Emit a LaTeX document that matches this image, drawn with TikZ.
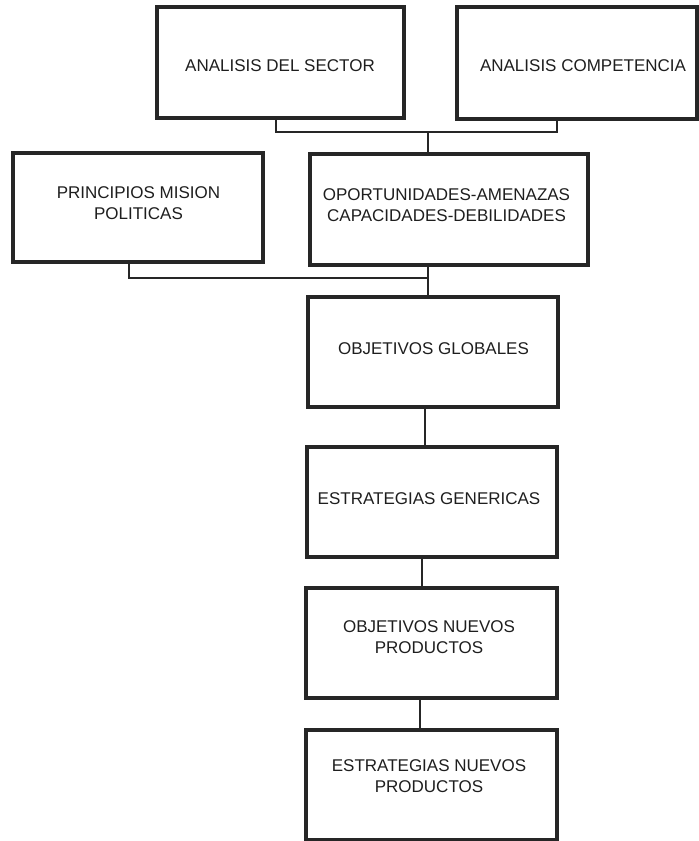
\documentclass[tikz,border=0pt]{standalone}
\usepackage{fontspec}
\setmainfont{Liberation Sans}
\usetikzlibrary{calc}
\definecolor{ink}{HTML}{262626}
\definecolor{txtink}{HTML}{1E1E1E}
\tikzset{
  box/.style={draw=ink, line width=3.2pt, rectangle, inner sep=0pt},
  boxtext/.style={text=txtink, align=center, inner sep=0pt,
    font=\fontsize{17}{21}\selectfont},
  conn/.style={draw=ink, line width=1.9pt},
  thinconn/.style={draw=ink, line width=1.3pt},
}
\begin{document}
\begin{tikzpicture}[x=1pt, y=-1pt]
\useasboundingbox (0,0) rectangle (699,841);

% boxes
\node[box, minimum width=247pt, minimum height=111pt] (b1) at (280.5,62.5) {};
\node[box, minimum width=240pt, minimum height=112pt] (b2) at (577,63) {};
\node[box, minimum width=250pt, minimum height=109pt] (b3) at (138,207.5) {};
\node[box, minimum width=278pt, minimum height=111pt] (b4) at (449,209.5) {};
\node[box, minimum width=250pt, minimum height=110pt] (b5) at (433,352) {};
\node[box, minimum width=250pt, minimum height=110pt] (b6) at (432,502) {};
\node[box, minimum width=251pt, minimum height=110pt] (b7) at (431.5,643) {};
\node[box, minimum width=251pt, minimum height=110pt] (b8) at (431.5,785) {};

% labels
\node[boxtext] (t1) at (280,66) {ANALISIS DEL SECTOR};
\node[boxtext] (t2) at (583,66) {ANALISIS COMPETENCIA};
\node[boxtext] (t3) at (138.5,203.5) {PRINCIPIOS MISION\\POLITICAS};
\node[boxtext] (t4) at (446.5,205) {OPORTUNIDADES-AMENAZAS\\CAPACIDADES-DEBILIDADES};
\node[boxtext] (t5) at (433.5,348.5) {OBJETIVOS GLOBALES};
\node[boxtext] (t6) at (429,498.5) {ESTRATEGIAS GENERICAS};
\node[boxtext] (t7) at (429,637.5) {OBJETIVOS NUEVOS\\PRODUCTOS};
\node[boxtext] (t8) at (429,776.5) {ESTRATEGIAS NUEVOS\\PRODUCTOS};

% junctions
\coordinate (j1) at (428,132);
\coordinate (j2) at (428,278);

% connectors
\draw[conn] ([xshift=-4.5pt]b1.south) |- (j1) -| ([xshift=-20pt]b2.south);
\draw[conn] (j1) -- (j1 |- b4.north);
\draw[conn] ([xshift=-9pt]b3.south) |- (j2);
\draw[conn] (j2 |- b4.south) -- (j2 |- b5.north);
\draw[thinconn] ([xshift=-8pt]b5.south) -- ([xshift=-8pt]b5.south |- b6.north);
\draw[conn] ([xshift=-10pt]b6.south) -- ([xshift=-10pt]b6.south |- b7.north);
\draw[conn] ([xshift=-11.5pt]b7.south) -- ([xshift=-11.5pt]b7.south |- b8.north);
\end{tikzpicture}
\end{document}
